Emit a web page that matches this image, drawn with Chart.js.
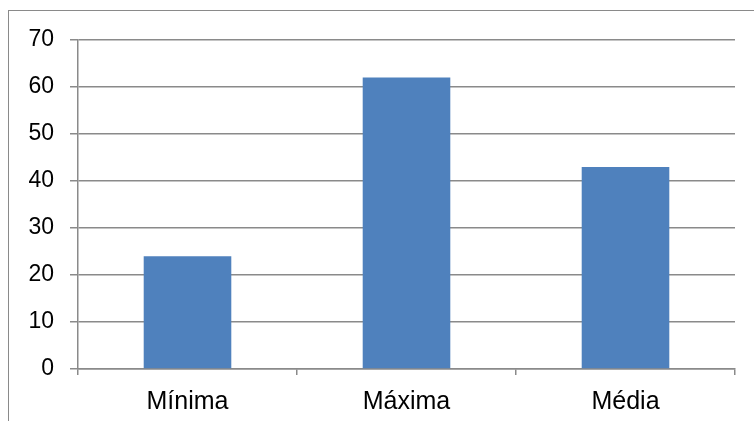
<!DOCTYPE html>
<html>
<head>
<meta charset="utf-8">
<script src="https://cdn.jsdelivr.net/npm/chart.js@4/dist/chart.umd.min.js"></script>
<style>
  html, body { margin: 0; padding: 0; background: #fff; }
  #wrap { position: relative; width: 754px; height: 421px; overflow: hidden; }
  #frame { position: absolute; left: 8px; top: 10px; width: 800px; height: 500px;
           border-left: 1.5px solid #8a8a8a; border-top: 1.5px solid #8a8a8a; }
  canvas { position: absolute; left: 0; top: 0; }
</style>
</head>
<body>
<div id="wrap">
  <div id="frame"></div>
  <canvas id="chart" width="754" height="421"></canvas>
</div>
<script>
const categories = ["Mínima", "Máxima", "Média"];
const values = [24, 62, 43];
const yTicks = [0, 10, 20, 30, 40, 50, 60, 70];

const gridColor = "#8a8a8a";

new Chart(document.getElementById("chart"), {
  type: "bar",
  data: {
    labels: categories,
    datasets: [{
      data: values,
      backgroundColor: "#4F81BD",
      borderWidth: 0,
      categoryPercentage: 1,
      barPercentage: 0.4
    }]
  },
  options: {
    responsive: false,
    animation: false,
    events: [],
    layout: { padding: { left: 0, top: 40, right: 19, bottom: 0 } },
    plugins: { legend: { display: false }, tooltip: { enabled: false } },
    scales: {
      x: {
        grid: { drawOnChartArea: false, drawTicks: true, tickLength: 6, color: gridColor, lineWidth: 1.5 },
        border: { color: gridColor, width: 1.5 },
        ticks: { color: "#000", padding: 12, font: { family: "Liberation Sans", size: 25 } },
        afterFit(scale) { scale.height = 52; }
      },
      y: {
        min: 0,
        max: 70,
        afterBuildTicks(scale) { scale.ticks = yTicks.map(v => ({ value: v })); },
        grid: { color: gridColor, lineWidth: 1.5, tickLength: 8 },
        border: { color: gridColor, width: 1.5 },
        ticks: { color: "#000", padding: 16, font: { family: "Liberation Sans", size: 23 } },
        afterFit(scale) { scale.width = 78; }
      }
    }
  }
});
</script>
</body>
</html>
